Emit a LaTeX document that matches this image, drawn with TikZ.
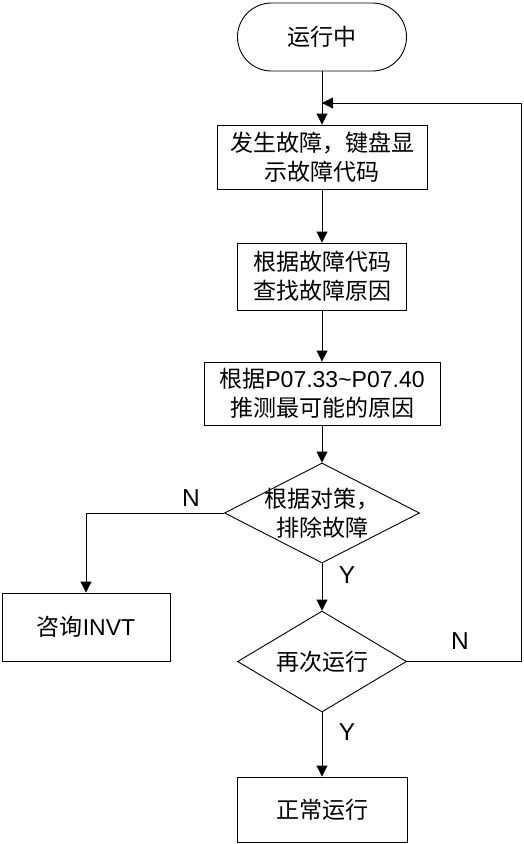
\documentclass[tikz,border=0pt]{standalone}
\usepackage{fontspec}
\setmainfont{Liberation Sans}
\newfontfamily\cjk{Noto Sans CJK SC}
\usetikzlibrary{arrows.meta,shapes.geometric,positioning}

\begin{document}
\begin{tikzpicture}[x=1pt,y=-1pt,font=\fontsize{23}{29}\selectfont,
        box/.style={shape=rectangle,draw=black,line width=0.9pt,align=center,inner sep=0pt},
        term/.style={box,rounded corners=34pt},
        dec/.style={shape=diamond,draw=black,line width=0.9pt,inner sep=0pt},
        yn/.style={font=\fontsize{24.5}{29}\selectfont},
        arr/.style={line width=0.9pt,-{Triangle[width=11pt,length=11pt]}}]
        \useasboundingbox (0,0) rectangle (524,844);

        \node (run) at (322,37) [term,minimum width=169pt,minimum height=68pt] {\cjk 运行中};
        \node (show) at (322,157) [box,minimum width=210pt,minimum height=64pt] {\cjk 发生故障，键盘显\\\cjk 示故障代码};
        \node (find) at (322,276.5) [box,minimum width=169pt,minimum height=67pt] {\cjk 根据故障代码\\\cjk 查找故障原因};
        \node (guess) at (322,393.5) [box,minimum width=236pt,minimum height=63pt] {{\cjk 根据}P07.33\textasciitilde P07.40\\\cjk 推测最可能的原因};
        \node (fix) at (322,513) [dec,minimum width=195pt,minimum height=100pt,
                label={[align=center]center:{\cjk 根据对策，\\\cjk 排除故障}}] {};
        \node (again) at (322,661.5) [dec,minimum width=169pt,minimum height=101pt,
                label={center:{\cjk 再次运行}}] {};
        \node (ask) at (86,627) [box,minimum width=168pt,minimum height=68pt] {{\cjk 咨询}INVT};
        \node (ok) at (322,809.5) [box,minimum width=170pt,minimum height=65pt] {\cjk 正常运行};

        \coordinate (merge) at (322,103);
        \coordinate (edge) at (521,103);

        \draw[arr] (run) -- (show);
        \draw[arr] (show) -- (find);
        \draw[arr] (find) -- (guess);
        \draw[arr] (guess) -- (fix);
        \draw[arr] (fix) -- (again);
        \draw[arr] (again) -- (ok);
        \draw[arr] (fix.west) -| (ask.north);
        \draw[arr] (again.east) -| (edge) -- (merge);

        \node (n1) at (191,498) [yn] {N};
        \node (y1) at (347,575) [yn] {Y};
        \node (n2) at (460,641) [yn] {N};
        \node (y2) at (347,732) [yn] {Y};
    \end{tikzpicture}
\end{document}
